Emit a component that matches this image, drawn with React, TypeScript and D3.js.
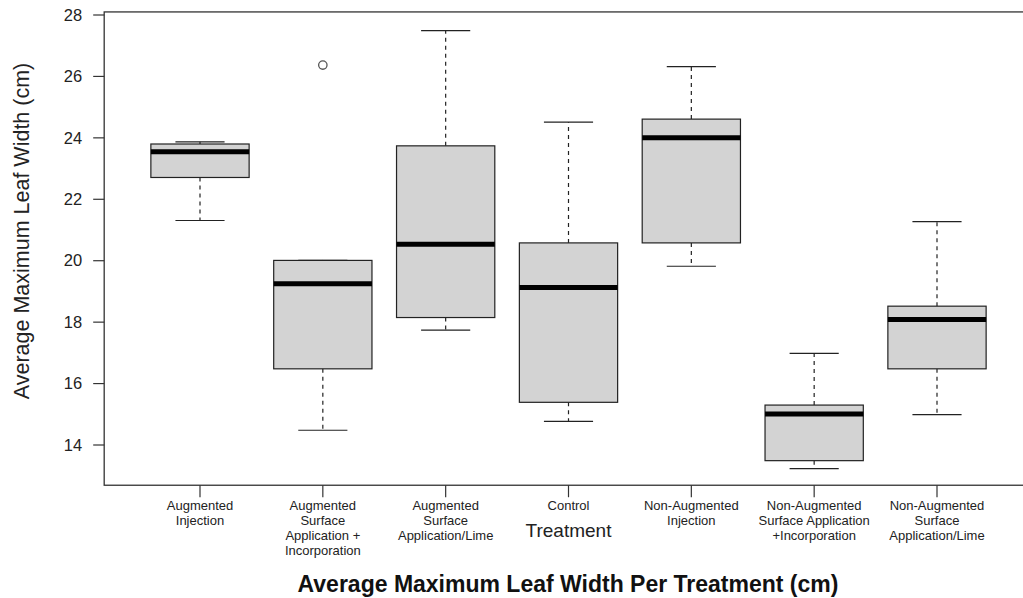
import React from "react";
import * as d3 from "d3";

// Treatment groups and their five-number summaries (cm)
const treatments: string[] = [
  "Augmented\nInjection",
  "Augmented\nSurface\nApplication +\nIncorporation",
  "Augmented\nSurface\nApplication/Lime",
  "Control",
  "Non-Augmented\nInjection",
  "Non-Augmented\nSurface Application\n+Incorporation",
  "Non-Augmented\nSurface\nApplication/Lime",
];
const whiskerLow: number[] = [21.31, 14.48, 17.74, 14.77, 19.82, 13.23, 14.99];
const quartile1: number[] = [22.71, 16.48, 18.15, 15.39, 20.58, 13.49, 16.48];
const medians: number[] = [23.55, 19.25, 20.54, 19.13, 24.0, 15.01, 18.09];
const quartile3: number[] = [23.8, 20.01, 23.74, 20.58, 24.61, 15.3, 18.52];
const whiskerHigh: number[] = [23.87, 20.01, 27.49, 24.51, 26.32, 16.98, 21.27];
const outliers: number[][] = [[], [26.37], [], [], [], [], []];
const yTicks: number[] = [14, 16, 18, 20, 22, 24, 26, 28];

const W = 1023;
const H = 598;
const FONT = "'Liberation Sans', Arial, Helvetica, sans-serif";
const INK = "#222";

export default function App() {
  const y = d3.scaleLinear().domain([14, 28]).range([445, 15]);
  const x = d3.scalePoint<string>().domain(treatments).range([200, 937]);
  const step = x.step();
  const boxW = step * 0.8;
  const capW = boxW / 2;

  // plot frame spans the padded x range (unit 0.22 .. 7.78)
  const frameLeft = (x(treatments[0]) as number) - step * 0.78;
  const frameRight = (x(treatments[treatments.length - 1]) as number) + step * 0.78;
  const frameTop = y(28.1);
  const frameBottom = y(12.69);

  return (
    <div style={{ position: "fixed", left: 0, top: 0 }}>
      <svg width={W} height={H} style={{ display: "block", background: "#fff" }}>
        {/* boxes */}
        {treatments.map((t, i) => {
          const cx = x(t) as number;
          return (
            <g key={t}>
              <line x1={cx} x2={cx} y1={y(quartile3[i])} y2={y(whiskerHigh[i])}
                stroke={INK} strokeWidth={1.2} strokeDasharray="4,4" />
              <line x1={cx} x2={cx} y1={y(quartile1[i])} y2={y(whiskerLow[i])}
                stroke={INK} strokeWidth={1.2} strokeDasharray="4,4" />
              <line x1={cx - capW / 2} x2={cx + capW / 2} y1={y(whiskerHigh[i])} y2={y(whiskerHigh[i])}
                stroke={INK} strokeWidth={1.2} />
              <line x1={cx - capW / 2} x2={cx + capW / 2} y1={y(whiskerLow[i])} y2={y(whiskerLow[i])}
                stroke={INK} strokeWidth={1.2} />
              <rect x={cx - boxW / 2} y={y(quartile3[i])} width={boxW}
                height={y(quartile1[i]) - y(quartile3[i])}
                fill="#d3d3d3" stroke={INK} strokeWidth={1.2} />
              <line x1={cx - boxW / 2} x2={cx + boxW / 2} y1={y(medians[i])} y2={y(medians[i])}
                stroke="#000" strokeWidth={5} />
              {outliers[i].map((o, k) => (
                <circle key={k} cx={cx} cy={y(o)} r={4.2} fill="none" stroke="#555" strokeWidth={1.3} />
              ))}
            </g>
          );
        })}

        {/* frame */}
        <rect x={frameLeft} y={frameTop} width={frameRight - frameLeft} height={frameBottom - frameTop}
          fill="none" stroke="#333" strokeWidth={1.3} />

        {/* y axis ticks */}
        {yTicks.map((v) => (
          <g key={v}>
            <line x1={frameLeft - 11} x2={frameLeft} y1={y(v)} y2={y(v)} stroke="#333" strokeWidth={1.2} />
            <text x={frameLeft - 22} y={y(v)} dy="0.35em" textAnchor="end"
              fontFamily={FONT} fontSize={16.5} fill={INK}>{v}</text>
          </g>
        ))}

        {/* x axis ticks and labels */}
        {treatments.map((t) => {
          const cx = x(t) as number;
          const lines = t.split("\n");
          return (
            <g key={t}>
              <line x1={cx} x2={cx} y1={frameBottom} y2={frameBottom + 12} stroke="#333" strokeWidth={1.2} />
              <text textAnchor="middle" fontFamily={FONT} fontSize={13} fill={INK}>
                {lines.map((ln, k) => (
                  <tspan key={k} x={cx} y={510 + k * 15}>{ln}</tspan>
                ))}
              </text>
            </g>
          );
        })}

        {/* axis titles */}
        <text x={x(treatments[3]) as number} y={537} textAnchor="middle"
          fontFamily={FONT} fontSize={19} fill={INK}>Treatment</text>
        <text transform={`translate(29, 231) rotate(-90)`} textAnchor="middle"
          fontFamily={FONT} fontSize={21.5} fill={INK}>Average Maximum Leaf Width (cm)</text>
        <text x={568} y={592} textAnchor="middle" fontFamily={FONT} fontSize={23}
          fontWeight="bold" fill="#111">Average Maximum Leaf Width Per Treatment (cm)</text>
      </svg>
    </div>
  );
}
